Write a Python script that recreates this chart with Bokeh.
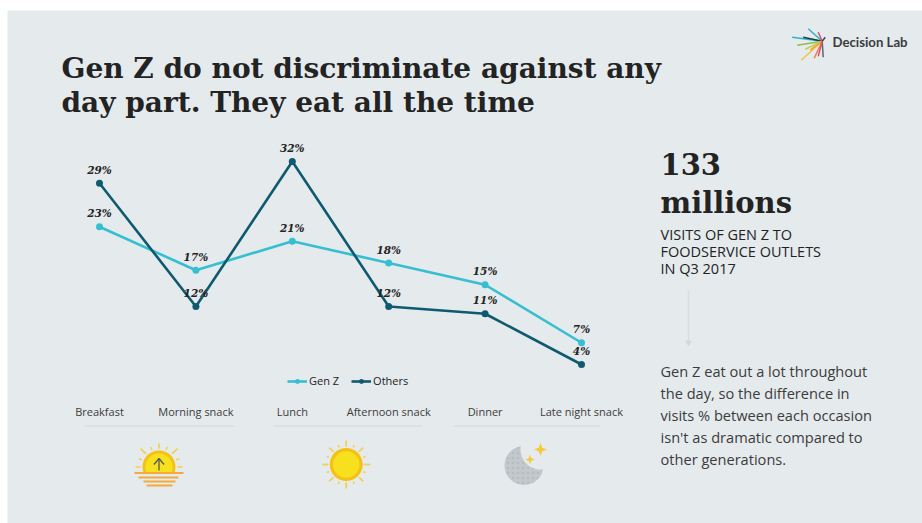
import math
from bokeh.core.properties import value
from bokeh.embed import file_html
from bokeh.models import ColumnDataSource, Legend, LegendItem, Range1d, LinearScale
from bokeh.plotting import figure
from bokeh.resources import INLINE

CATEGORIES = ["Breakfast", "Morning snack", "Lunch", "Afternoon snack", "Dinner", "Late night snack"]
GEN_Z = [23, 17, 21, 18, 15, 7]
OTHERS = [29, 12, 32, 12, 11, 4]

TITLE_LINES = ["Gen Z do not discriminate against any", "day part. They eat all the time"]
STAT_LINES = ["133", "millions"]
CAPTION_LINES = ["VISITS OF GEN Z TO", "FOODSERVICE OUTLETS", "IN Q3 2017"]
BODY_LINES = ["Gen Z eat out a lot throughout", "the day, so the difference in",
              "visits % between each occasion", "isn't as dramatic compared to", "other generations."]

W, H = 922, 523
BG = "#e5eaed"
TEAL = "#35bfd0"
DARK = "#0f5a70"
INK = "#232323"
SERIF = value("DejaVu Serif")
SANS = value("Open Sans")

# Whole canvas in pixel units; the data scale is defined below as an extra range pair.
p = figure(width=W, height=H, x_range=Range1d(0, W), y_range=Range1d(H, 0),
           output_backend="svg", toolbar_location=None, min_border=0,
           background_fill_color="white", border_fill_color="white")
p.axis.visible = False
p.grid.visible = False
p.outline_line_color = None

# Category index / percent scales laid over the canvas.
X0, DX = 99.0, 96.4
Y32, PX_PER_PCT = 161.0, 7.25
p.extra_x_ranges["cat"] = Range1d(-X0 / DX, (W - X0) / DX)
p.extra_y_ranges["pct"] = Range1d(32 - (H - Y32) / PX_PER_PCT, 32 + Y32 / PX_PER_PCT)
p.extra_x_scales["cat"] = LinearScale()
p.extra_y_scales["pct"] = LinearScale()


def text(x, y, lines, size, color=INK, font=SANS, style="normal", step=0):
    ys = [y + i * step for i in range(len(lines))]
    p.text(x=[x] * len(lines), y=ys, text=lines, text_font=font, text_font_size=size,
           text_font_style=style, text_color=color, text_align="left", text_baseline="alphabetic")


# Slide panel
p.quad(left=7, right=W, top=10, bottom=522.5, fill_color=BG, line_color=None)

# Headline and right-hand column
text(61, 68, TITLE_LINES, "28px", font=SERIF, style="bold", step=34)
text(660, 163, STAT_LINES, "29px", font=SERIF, style="bold", step=39)
text(660, 234, CAPTION_LINES, "14.5px", step=17)
text(660, 370, BODY_LINES, "14.6px", color="#3c3c3c", step=22)
p.segment(x0=688, y0=290, x1=688, y1=340, line_color="#d8dde0", line_width=1.5)
p.scatter(x=[688], y=[342], marker="inverted_triangle", size=7, fill_color="#d3d8db", line_color=None)

# Line series
xs = list(range(len(CATEGORIES)))
src = ColumnDataSource(dict(x=xs, gen_z=GEN_Z, others=OTHERS,
                            gen_z_label=[f"{v}%" for v in GEN_Z],
                            others_label=[f"{v}%" for v in OTHERS]))
kw = dict(x_range_name="cat", y_range_name="pct", source=src)
l1 = p.line("x", "gen_z", line_color=TEAL, line_width=2.6, **kw)
c1 = p.scatter("x", "gen_z", size=7, fill_color=TEAL, line_color=None, **kw)
l2 = p.line("x", "others", line_color=DARK, line_width=2.6, **kw)
c2 = p.scatter("x", "others", size=7, fill_color=DARK, line_color=None, **kw)
for col in ("gen_z_label", "others_label"):
    y_col = col.replace("_label", "")
    p.text("x", y_col, text=col, text_font=SERIF, text_font_style="bold italic", text_font_size="10.5px",
           text_color=INK, text_align="center", text_baseline="alphabetic", y_offset=-13.5, **kw)

legend = Legend(items=[LegendItem(label="Gen Z", renderers=[l1, c1]), LegendItem(label="Others", renderers=[l2, c2])],
                orientation="horizontal", location=(287, 135), background_fill_alpha=0, border_line_color=None,
                label_text_font="Open Sans", label_text_font_size="11px", label_text_color=INK,
                glyph_width=20, glyph_height=12, spacing=12, padding=4, margin=0, label_standoff=2)
p.add_layout(legend, "center")

# Day-part labels with rules underneath
p.text(x=xs, y=[411] * 6, text=CATEGORIES, x_range_name="cat", text_font=SANS, text_font_size="11px",
       text_color="#3c3c3c", text_align="center", text_baseline="middle")
p.segment(x0=[84, 273, 453], y0=[425.5] * 3, x1=[234, 421, 600], y1=[425.5] * 3, line_color="#d3d8dc", line_width=1)


def rays(cx, cy, r0, r1, degrees, color, width):
    angles = [math.radians(a) for a in degrees]
    x0 = [cx + r0 * math.cos(a) for a in angles]
    y0 = [cy - r0 * math.sin(a) for a in angles]
    x1 = [cx + r1 * math.cos(a) for a in angles]
    y1 = [cy - r1 * math.sin(a) for a in angles]
    p.segment(x0=x0, y0=y0, x1=x1, y1=y1, line_color=color, line_width=width)


ORANGE, YELLOW, RIM, RAY = "#f3a93c", "#f7e11f", "#f5c214", "#f3cf4a"

# Sunrise icon
cx, cy = 158.5, 466.5
rays(cx, cy, 18.5, 26, (45, 135), RAY, 1.7)
rays(cx, cy, 18.5, 23.5, (90, 0, 180), RAY, 1.6)
rays(cx, cy, 18.5, 22, (22.5, 67.5, 112.5, 157.5), RAY, 1.4)
p.circle(x=[cx], y=[cy], radius=16.5, fill_color=RIM, line_color=None)
p.circle(x=[cx], y=[cy], radius=13.5, fill_color=YELLOW, line_color=None)
p.quad(left=134, right=184, top=472.5, bottom=486, fill_color=BG, line_color=None)
p.segment(x0=[158.5], y0=[470], x1=[158.5], y1=[458], line_color="#55585a", line_width=1.3)
p.segment(x0=[153.5, 163.5], y0=[464, 464], x1=[158.5, 158.5], y1=[458, 458], line_color="#55585a", line_width=1.3)
p.segment(x0=[134, 138, 143, 146], y0=[472.5, 477, 481, 485], x1=[183, 178, 175, 172],
          y1=[472.5, 477, 481, 485], line_color=ORANGE, line_width=1.9)

# Midday sun icon
cx, cy = 345.7, 464
rays(cx, cy, 18, 24, range(0, 360, 45), RAY, 1.7)
rays(cx, cy, 18.5, 21, [a + 22.5 for a in range(0, 360, 45)], RAY, 1.5)
p.circle(x=[cx], y=[cy], radius=16.5, fill_color=RIM, line_color=None)
p.circle(x=[cx], y=[cy], radius=13.2, fill_color=YELLOW, line_color=None)

# Night icon
p.circle(x=[523.5], y=[465], radius=19.5, fill_color="#c2c8cc", line_color=None,
         hatch_pattern="dot", hatch_color="#b2b8bc", hatch_scale=5, hatch_alpha=0.8)
p.circle(x=[540], y=[449], radius=20, fill_color=BG, line_color=None)


def star(cx, cy, r):
    pts = []
    for i in range(8):
        rr = r if i % 2 == 0 else r * 0.38
        a = i * math.pi / 4
        pts.append((cx + rr * math.cos(a), cy + rr * math.sin(a)))
    return [q[0] for q in pts], [q[1] for q in pts]


for sx, sy, sr in [(540, 449, 6.5), (529.5, 459, 4.8)]:
    a, b = star(sx, sy, sr)
    p.patch(a, b, fill_color="#f5c93a", line_color=None)

# Logo: burst of coloured spokes and wordmark
lx, ly = 821.7, 40.7
spokes = [(-14, -12.5, "#2bb4c4"), (-30, -4, "#2bb4c4"), (-19, -4, "#1d3d4c"), (-25, 4, "#8fbf4a"),
          (-17, 8, "#c3d24e"), (-21, 19, "#f3c04a"), (-12, 9, "#f0a33a"), (-8, 17, "#ef7a50"),
          (-4, -9, "#d94f6a"), (1, 16, "#5a6a70"), (3, -4, "#37474f"), (-4, 15, "#e0506a")]
p.segment(x0=[lx] * len(spokes), y0=[ly] * len(spokes), x1=[lx + s[0] for s in spokes],
          y1=[ly + s[1] for s in spokes], line_color=[s[2] for s in spokes], line_width=1.5)
text(832, 41, ["Decision Lab"], "13.2px", color="#3a3d40", font=value("Lato"), style="bold")

open("out.html", "w").write(file_html(p, INLINE))
